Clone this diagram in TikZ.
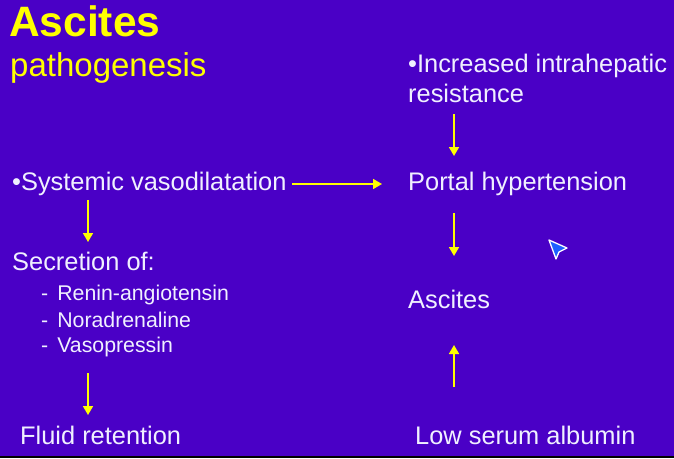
\documentclass[tikz,border=0pt]{standalone}
\usepackage{fontspec}
\setmainfont{Liberation Sans}
\usetikzlibrary{arrows.meta}
\definecolor{slidebg}{RGB}{74,0,198}
\definecolor{slidetext}{RGB}{240,240,255}
\definecolor{slideyellow}{RGB}{255,255,0}
\definecolor{cursorblue}{RGB}{30,95,255}
\tikzset{
	txt/.style={anchor=base west, inner sep=0pt, text=slidetext, font=\fontsize{25.4}{30}\selectfont},
	subtxt/.style={txt, font=\fontsize{21.3}{25}\selectfont},
	ttl/.style={anchor=base west, inner sep=0pt, text=slideyellow},
	arr/.style={draw=slideyellow, line width=1.7pt, -{Triangle[width=10pt,length=9pt]}}
}
\begin{document}
\begin{tikzpicture}[x=1pt,y=-1pt]
	\fill[slidebg] (0,0) rectangle (674,458);
	\useasboundingbox (0,0) rectangle (674,458);
	\draw[black, line width=2pt] (0,457) -- (674,457);
	
	\node[ttl, font=\bfseries\fontsize{42.5}{48}\selectfont] (title) at (9,36) {Ascites};
	\node[ttl, font=\fontsize{33}{38}\selectfont] (subtitle) at (10,76) {pathogenesis};
	
	\node[txt] (vaso) at (12,190) {•Systemic vasodilatation};
	\node[txt] (secr) at (12,270) {Secretion of:};
	\node[subtxt] (renin) at (41,300) {-\hspace{9pt}Renin-angiotensin};
	\node[subtxt] (norad) at (41,327) {-\hspace{9pt}Noradrenaline};
	\node[subtxt] (vasop) at (41,352) {-\hspace{9pt}Vasopressin};
	\node[txt] (fluid) at (20,444) {Fluid retention};
	
	\node[txt] (incr) at (408,72) {•Increased intrahepatic};
	\node[txt] (resist) at (408,102) {resistance};
	\node[txt] (portal) at (408,190) {Portal hypertension};
	\node[txt] (asc) at (408,308) {Ascites};
	\node[txt] (albumin) at (415,444) {Low serum albumin};
	
	\coordinate (V1) at (88,200);
	\coordinate (V2) at (88,242);
	\coordinate (S1) at (88,373);
	\coordinate (S2) at (88,415);
	\coordinate (H1) at (292,184);
	\coordinate (H2) at (382,184);
	\coordinate (R1) at (454,114);
	\coordinate (R2) at (454,156);
	\coordinate (P1) at (454,213);
	\coordinate (P2) at (454,256);
	\coordinate (L1) at (454,387);
	\coordinate (L2) at (454,345);
	
	\draw[arr] (V1) -- (V2);
	\draw[arr] (S1) -- (S2);
	\draw[arr] (H1) -- (H2);
	\draw[arr] (R1) -- (R2);
	\draw[arr] (P1) -- (P2);
	\draw[arr] (L1) -- (L2);
	
	\filldraw[fill=cursorblue, draw=white, line width=1.3pt, line join=round] (549,240) -- (567,248) -- (559,252) -- (556,259) -- cycle;
\end{tikzpicture}
\end{document}
